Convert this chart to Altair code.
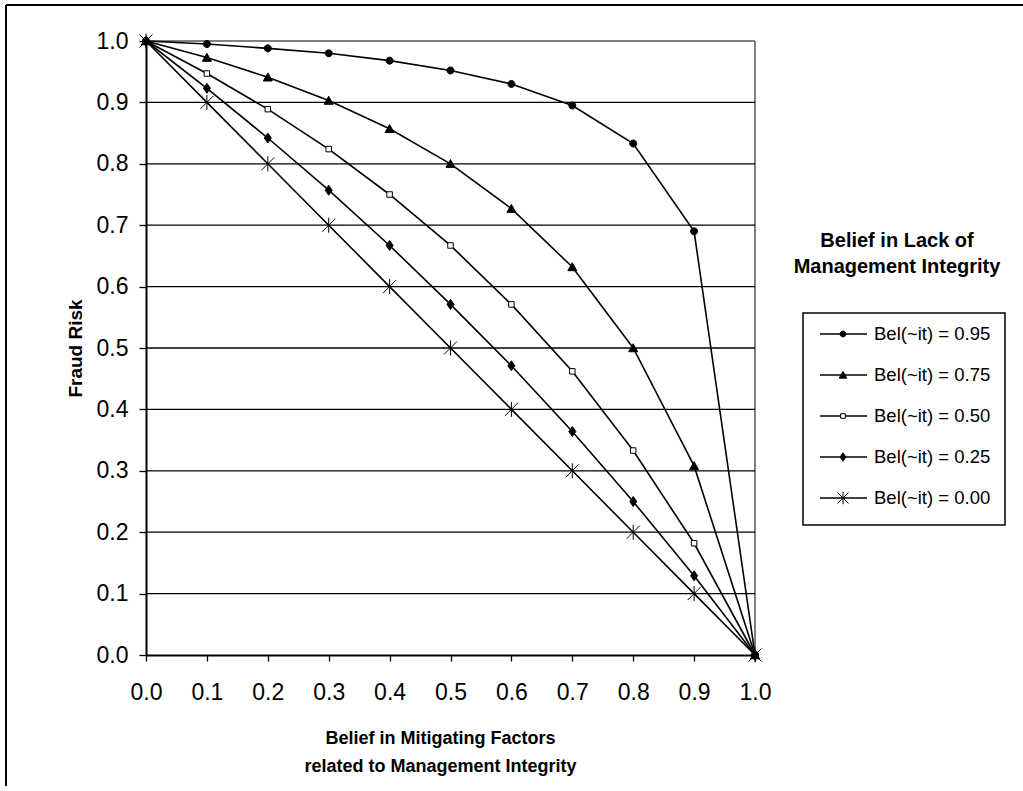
import altair as alt
import pandas as pd

# ---------------- data ----------------
x_values = [0.0, 0.1, 0.2, 0.3, 0.4, 0.5, 0.6, 0.7, 0.8, 0.9, 1.0]
series_names = ["Bel(~it) = 0.95", "Bel(~it) = 0.75", "Bel(~it) = 0.50",
                "Bel(~it) = 0.25", "Bel(~it) = 0.00"]
bel_095 = [1.000, 0.995, 0.988, 0.980, 0.968, 0.952, 0.930, 0.895, 0.833, 0.690, 0.000]
bel_075 = [1.000, 0.973, 0.941, 0.903, 0.857, 0.800, 0.727, 0.632, 0.500, 0.308, 0.000]
bel_050 = [1.000, 0.947, 0.889, 0.824, 0.750, 0.667, 0.571, 0.462, 0.333, 0.182, 0.000]
bel_025 = [1.000, 0.923, 0.842, 0.757, 0.667, 0.571, 0.471, 0.364, 0.250, 0.129, 0.000]
bel_000 = [1.000, 0.900, 0.800, 0.700, 0.600, 0.500, 0.400, 0.300, 0.200, 0.100, 0.000]
series_values = [bel_095, bel_075, bel_050, bel_025, bel_000]
tick_values = [0.0, 0.1, 0.2, 0.3, 0.4, 0.5, 0.6, 0.7, 0.8, 0.9, 1.0]
grid_values = [0.1, 0.2, 0.3, 0.4, 0.5, 0.6, 0.7, 0.8, 0.9]
legend_title = ["Belief in Lack of", "Management Integrity"]
x_title = ["Belief in Mitigating Factors", "related to Management Integrity"]
y_title = "Fraud Risk"

rows = []
for name, vals in zip(series_names, series_values):
    for i, (xv, yv) in enumerate(zip(x_values, vals)):
        rows.append({"series": name, "x": xv, "risk": yv, "order": i})
df = pd.DataFrame(rows)
legend_df = pd.DataFrame({"series": series_names, "idx": list(range(len(series_names)))})
grid_df = pd.DataFrame({"risk": grid_values})
one = pd.DataFrame({"a": [0]})

# ---------------- styles ----------------
FONT = "Liberation Sans"
W, H = 609, 614
marker_paths = [
    "M-0.7,0A0.7,0.7,0,1,0,0.7,0A0.7,0.7,0,1,0,-0.7,0Z",        # circle
    "M0,-0.85L0.9,0.75L-0.9,0.75Z",                              # triangle
    "M-0.55,-0.55H0.55V0.55H-0.55Z",                             # square
    "M0,-1L0.7,0L0,1L-0.7,0Z",                                   # diamond
    "M-1.3,-1.3L1.3,1.3M-1.3,1.3L1.3,-1.3M0,-1.5L0,1.5",         # asterisk
]
marker_fills = ["black", "black", "white", "black", "transparent"]
marker_strokes = [1, 1, 1.3, 1, 1.5]

shape_enc = alt.Shape("series:N", scale=alt.Scale(domain=series_names, range=marker_paths), legend=None)
fill_enc = alt.Fill("series:N", scale=alt.Scale(domain=series_names, range=marker_fills), legend=None)
sw_enc = alt.StrokeWidth("series:N", scale=alt.Scale(domain=series_names, range=marker_strokes), legend=None)

xs = alt.Scale(domain=[0, 1], nice=False, zero=False)
ys = alt.Scale(domain=[0, 1], nice=False, zero=False)

x_axis = alt.Axis(values=tick_values, format=".1f", grid=False, domainColor="black",
                  domainWidth=2, tickColor="black", tickWidth=1.3, tickSize=6,
                  labelFontSize=23, labelColor="black", labelPadding=20, labelFlush=False,
                  labelOverlap=False, labelFont=FONT,
                  title=x_title, titleFontSize=18, titleFontWeight="bold", titleColor="black",
                  titleFont=FONT, titleBaseline="top", titleX=294, titleY=74,
                  titleAlign="center", titleLineHeight=28)
y_axis = alt.Axis(values=tick_values, format=".1f", grid=False, domainColor="black",
                  domainWidth=2, tickColor="black", tickWidth=1.3, tickSize=7,
                  labelFontSize=23, labelColor="black", labelPadding=11, labelFlush=False,
                  labelOverlap=False, labelFont=FONT,
                  title=y_title, titleFontSize=19, titleFontWeight="bold", titleColor="black",
                  titleFont=FONT, titleX=-71, titleY=307, titleBaseline="middle", titleAngle=-90)

# plot-area border (gray, top and right)
border_top = alt.Chart(one).mark_rule(color="#808080", strokeWidth=2).encode(
    x=alt.value(0), x2=alt.value(W), y=alt.value(0))
border_right = alt.Chart(one).mark_rule(color="#808080", strokeWidth=2).encode(
    x=alt.value(W), y=alt.value(0), y2=alt.value(H))

grid = alt.Chart(grid_df).mark_rule(color="black", strokeWidth=1.3).encode(
    y=alt.Y("risk:Q", scale=ys, axis=None))
lines = alt.Chart(df).mark_line(color="black", strokeWidth=1.6).encode(
    x=alt.X("x:Q", scale=xs, axis=x_axis), y=alt.Y("risk:Q", scale=ys, axis=y_axis),
    detail="series:N", order="order:Q")
points = alt.Chart(df).mark_point(stroke="black", opacity=1, fillOpacity=1, size=100).encode(
    x=alt.X("x:Q", scale=xs, axis=None), y=alt.Y("risk:Q", scale=ys, axis=None),
    shape=shape_enc, fill=fill_enc, strokeWidth=sw_enc)

# ---------------- legend ----------------
ly = alt.Scale(domain=[0, 4], range=[293, 457])
box = alt.Chart(one).mark_rect(fill="white", stroke="black", strokeWidth=1.5).encode(
    x=alt.value(657), x2=alt.value(859), y=alt.value(272), y2=alt.value(484))
leg_rule = alt.Chart(legend_df).mark_rule(color="black", strokeWidth=1.6).encode(
    y=alt.Y("idx:Q", scale=ly, axis=None), x=alt.value(674), x2=alt.value(721))
leg_pts = alt.Chart(legend_df).mark_point(stroke="black", opacity=1, fillOpacity=1, size=70).encode(
    y=alt.Y("idx:Q", scale=ly, axis=None), x=alt.value(697),
    shape=shape_enc, fill=fill_enc, strokeWidth=sw_enc)
leg_txt = alt.Chart(legend_df).mark_text(align="left", baseline="middle", fontSize=18.5,
                                         font=FONT, color="black").encode(
    y=alt.Y("idx:Q", scale=ly, axis=None), x=alt.value(728), text="series:N")
leg_title = alt.Chart(one).mark_text(text=legend_title, align="center", baseline="top",
                                     fontSize=20, fontWeight="bold", font=FONT, color="black",
                                     lineHeight=26).encode(
    x=alt.value(751), y=alt.value(190))

# ---------------- outer frame ----------------
frame_top = alt.Chart(one).mark_rule(color="black", strokeWidth=2).encode(
    x=alt.value(-140), x2=alt.value(880), y=alt.value(-36))
frame_left = alt.Chart(one).mark_rule(color="black", strokeWidth=2).encode(
    x=alt.value(-140), y=alt.value(-36), y2=alt.value(760))

chart = alt.layer(
    border_top, border_right, grid, lines, points,
    box, leg_rule, leg_pts, leg_txt, leg_title, frame_top, frame_left
).resolve_scale(
    y="independent", x="independent"
).properties(
    width=W, height=H,
    autosize=alt.AutoSizeParams(type="none"),
    padding={"left": 146, "top": 41, "right": 268, "bottom": 131},
    background="white",
).configure_view(stroke=None).configure(font=FONT)

chart.save("out.html", embed_options={"renderer": "svg", "actions": False})
